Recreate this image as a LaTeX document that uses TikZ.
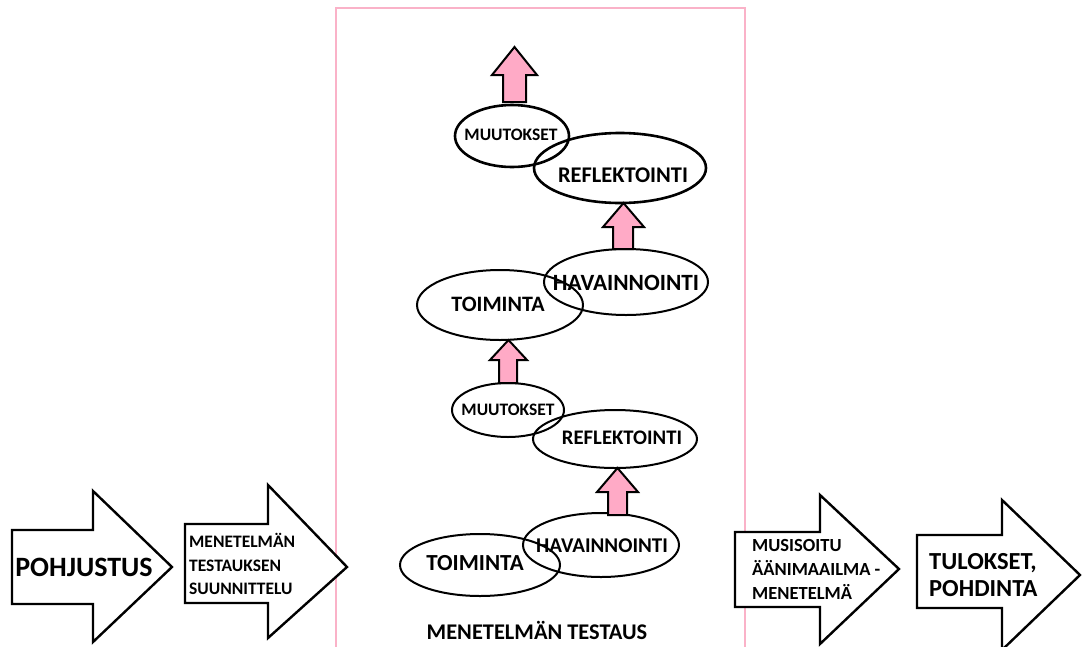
\documentclass[tikz,border=0pt]{standalone}
\usepackage{fontspec}
\setmainfont{Carlito}
\usetikzlibrary{shapes.geometric}
\definecolor{frame}{RGB}{250,178,200}
\definecolor{pinkfill}{RGB}{255,170,198}
\tikzset{
  blockarrow/.style={draw=black, line width=2.4pt, fill=white, line join=miter},
  pinkarrow/.style={draw=black, line width=2pt, fill=pinkfill, line join=miter},
  oval/.style={draw=black, ellipse, line width=2pt, inner sep=0pt},
  oval thick/.style={oval, line width=2.6pt},
  lbl/.style={font=\bfseries, inner sep=0pt, align=left},
}
\newcommand{\fs}[1]{\bfseries\fontsize{#1}{1.2\dimexpr#1pt\relax}\selectfont}
\begin{document}
\begin{tikzpicture}[x=1pt,y=-1pt]
\useasboundingbox (0,0) rectangle (1082,646);
% pink frame
\draw[frame, line width=2.4pt] (336,660) -- (336,8) -- (745,8) -- (745,660);

% block arrows along the bottom
\draw[blockarrow] (12,530) -- (93,530) -- (93,491) -- (172,567) -- (93,642) -- (93,604) -- (12,604) -- cycle;
\node[lbl, font=\bfseries\fontsize{28}{30}\selectfont] (pohj) at (84,567) {POHJUSTUS};

\draw[blockarrow] (185,524) -- (268,524) -- (268,485) -- (347,567) -- (268,638) -- (268,603) -- (185,603) -- cycle;
\node[lbl, anchor=west, font=\bfseries\fontsize{17.5}{23.5}\selectfont] (suun) at (189,564) {MENETELMÄN\\TESTAUKSEN\\SUUNNITTELU};

\draw[blockarrow] (735,532) -- (820,532) -- (820,495) -- (899,569) -- (820,644) -- (820,607) -- (735,607) -- cycle;
\node[lbl, anchor=west, font=\bfseries\fontsize{18.5}{24}\selectfont] (musi) at (752,569) {MUSISOITU\\ÄÄNIMAAILMA -\\MENETELMÄ};

\draw[blockarrow] (917,535) -- (1002,535) -- (1002,500) -- (1080,575) -- (1002,650) -- (1002,608) -- (917,608) -- cycle;
\node[lbl, anchor=west, font=\bfseries\fontsize{24.5}{27}\selectfont] (tulo) at (929,575) {TULOKSET,\\POHDINTA};

% ovals (cycle)
\node[oval, minimum width=160pt, minimum height=62pt] (toim1) at (480,565) {};
\node[oval, minimum width=156pt, minimum height=64pt] (hav1) at (601,545) {};
\node[oval, minimum width=164pt, minimum height=58pt] (ref1) at (615,439) {};
\node[oval, minimum width=112pt, minimum height=54pt] (muu1) at (508,410) {};
\node[oval, minimum width=166pt, minimum height=70pt] (toim2) at (500,305) {};
\node[oval, minimum width=164pt, minimum height=66pt] (hav2) at (626,282) {};
\node[oval thick, minimum width=172pt, minimum height=70pt] (ref2) at (620,168) {};
\node[oval thick, minimum width=114pt, minimum height=62pt] (muu2) at (512,136) {};

\node[lbl, font=\fs{23}] (toim1t) at ([xshift=-5pt,yshift=2pt]toim1.center) {TOIMINTA};
\node[lbl, font=\fs{21}] (hav1t) at ([xshift=1pt,yshift=-1pt]hav1.center) {HAVAINNOINTI};
\node[lbl, font=\fs{20.7}] (ref1t) at ([xshift=7pt,yshift=1pt]ref1.center) {REFLEKTOINTI};
\node[lbl, font=\fs{17.5}] (muu1t) at (muu1.center) {MUUTOKSET};
\node[lbl, font=\fs{22}] (toim2t) at ([xshift=-2pt,yshift=1pt]toim2.center) {TOIMINTA};
\node[lbl, font=\fs{23.3}] (hav2t) at ([yshift=-1pt]hav2.center) {HAVAINNOINTI};
\node[lbl, font=\fs{22.4}] (ref2t) at ([xshift=3pt,yshift=-7pt]ref2.center) {REFLEKTOINTI};
\node[lbl, font=\fs{17.5}] (muu2t) at ([xshift=-1pt,yshift=1pt]muu2.center) {MUUTOKSET};

% pink up arrows
\draw[pinkarrow] (608,515) -- (608,492) -- (597,492) -- (617.5,468) -- (638,492) -- (627,492) -- (627,515) -- cycle;
\draw[pinkarrow] (499,383) -- (499,360) -- (490,360) -- (508.5,340) -- (527,360) -- (517,360) -- (517,383) -- cycle;
\draw[pinkarrow] (613,249) -- (613,227) -- (603,227) -- (623.5,203) -- (644,227) -- (633,227) -- (633,249) -- cycle;
\draw[pinkarrow] (503,102) -- (503,75) -- (492,75) -- (514.5,47) -- (537,75) -- (526,75) -- (526,102) -- cycle;

\node[lbl, font=\fs{22.4}] (test) at (537,630) {MENETELMÄN TESTAUS};
\end{tikzpicture}
\end{document}
